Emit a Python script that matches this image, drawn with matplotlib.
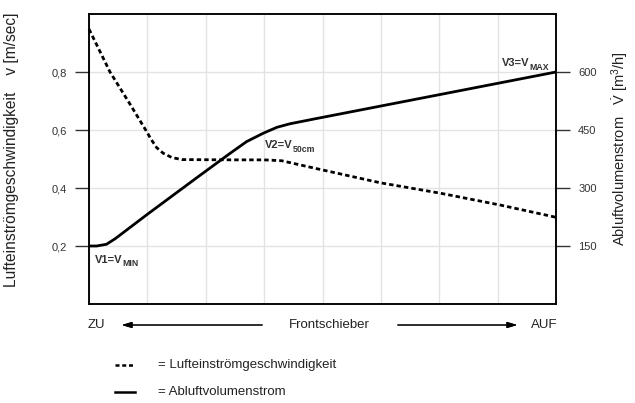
import matplotlib
matplotlib.use("Agg")
import matplotlib.pyplot as plt
from matplotlib.lines import Line2D

plt.rcParams["font.family"] = ["Liberation Sans", "DejaVu Sans"]
plt.rcParams["mathtext.fontset"] = "custom"
plt.rcParams["mathtext.rm"] = "Liberation Sans"
plt.rcParams["mathtext.it"] = "Liberation Sans:italic"
plt.rcParams["mathtext.bf"] = "Liberation Sans:bold"

# ---- data (x = Frontschieber position, 0 = ZU ... 8 = AUF) ----
x_v = [0, 0.36, 0.7, 0.98, 1.07, 1.16, 1.27, 1.42, 1.59, 2.5, 3.0, 3.3,
       3.96, 4.99, 6.02, 7.05, 8]
v_luft = [0.948, 0.80, 0.69, 0.597, 0.566, 0.539, 0.520, 0.505, 0.498, 0.497,
          0.497, 0.494, 0.464, 0.418, 0.382, 0.341, 0.299]

x_q = [0, 0.13, 0.3, 0.45, 1.0, 1.85, 2.42, 2.70, 2.99, 3.22, 3.44, 3.84, 8]
q_abluft = [150, 150, 154.5, 169, 232, 327, 390, 420, 442, 457, 466, 478, 600]

v_ticks = [0.2, 0.4, 0.6, 0.8]
v_labels = ["0,2", "0,4", "0,6", "0,8"]
q_ticks = [150, 300, 450, 600]

fig = plt.figure(figsize=(6.35, 4.03), dpi=100)
ax = fig.add_axes([89 / 635, 1 - 304 / 403, 467 / 635, 290 / 403])
ax2 = ax.twinx()

ax.set_xlim(0, 8)
ax.set_ylim(0, 1.0)
ax2.set_ylim(0, 750)

ax.set_xticks(range(9))
ax.tick_params(axis="x", length=0, labelbottom=False)
ax.grid(True, color="#e3e3e3", lw=1)
ax.set_axisbelow(True)

ax.set_yticks(v_ticks)
ax.set_yticklabels(v_labels)
ax.tick_params(axis="y", length=10, width=1, labelsize=8, pad=6,
               color="#333333", labelcolor="#333333")
ax2.set_yticks(q_ticks)
ax2.set_yticklabels([str(t) for t in q_ticks])
ax2.tick_params(axis="y", length=10, width=1, labelsize=8, pad=6,
                color="#333333", labelcolor="#333333")

for a in (ax, ax2):
    for s in a.spines.values():
        s.set_color("black")
        s.set_linewidth(1.1)

ax.plot(x_v, v_luft, color="black", lw=2.0, ls=(0, (1.6, 1.1)), clip_on=False)
ax2.plot(x_q, q_abluft, color="black", lw=2.0, solid_capstyle="butt",
         solid_joinstyle="round", clip_on=False)


def point_label(x, y, main, sub):
    t = ax2.text(x, y, main, fontsize=8, fontweight="bold", color="#333333",
                 ha="left", va="center")
    ax2.annotate(sub, xy=(1, 0.1), xycoords=t, fontsize=6.3, fontweight="bold",
                 color="#333333", ha="left", va="center")


point_label(0.10, 114, "V1=V", "MIN")
point_label(3.01, 411, "V2=V", "50cm")
point_label(7.08, 623, "V3=V", "MAX")

# axis labels
fig.text(12 / 635, 1 - 150 / 403, "Lufteinströmgeschwindigkeit    v [m/sec]",
         rotation=90, ha="center", va="center", fontsize=11.2, color="#222222")
fig.text(620 / 635, 1 - 149 / 403,
         r"Abluftvolumenstrom   $\dot{\mathrm{V}}$ [m$^3$/h]",
         rotation=90, ha="center", va="center", fontsize=10.5, color="#222222")

# Frontschieber arrow row
yb = 1 - 325 / 403
fig.text(88 / 635, yb, "ZU", ha="left", va="center", fontsize=9.5, color="#222222")
fig.text(557 / 635, yb, "AUF", ha="right", va="center", fontsize=9.5, color="#222222")
fig.text(329 / 635, yb, "Frontschieber", ha="center", va="center", fontsize=9.5,
         color="#222222")
arrow = dict(arrowstyle="-|>,head_length=0.6,head_width=0.18", color="black", lw=0.8)
fig.add_artist(plt.annotate("", xy=(119 / 635, yb), xytext=(265 / 635, yb),
                            xycoords="figure fraction", arrowprops=arrow))
fig.add_artist(plt.annotate("", xy=(520 / 635, yb), xytext=(395 / 635, yb),
                            xycoords="figure fraction", arrowprops=arrow))

# legend
y1 = 1 - 365 / 403
y2 = 1 - 392 / 403
fig.add_artist(Line2D([115 / 635, 135 / 635], [y1, y1], color="black", lw=1.8,
                      ls=(0, (1.6, 1.1))))
fig.add_artist(Line2D([115 / 635, 135 / 635], [y2, y2], color="black", lw=1.8))
fig.text(158 / 635, y1, "= Lufteinströmgeschwindigkeit", ha="left", va="center",
         fontsize=9.5, color="#222222")
fig.text(158 / 635, y2, "= Abluftvolumenstrom", ha="left", va="center",
         fontsize=9.5, color="#222222")

fig.savefig("out.png", dpi=100)
